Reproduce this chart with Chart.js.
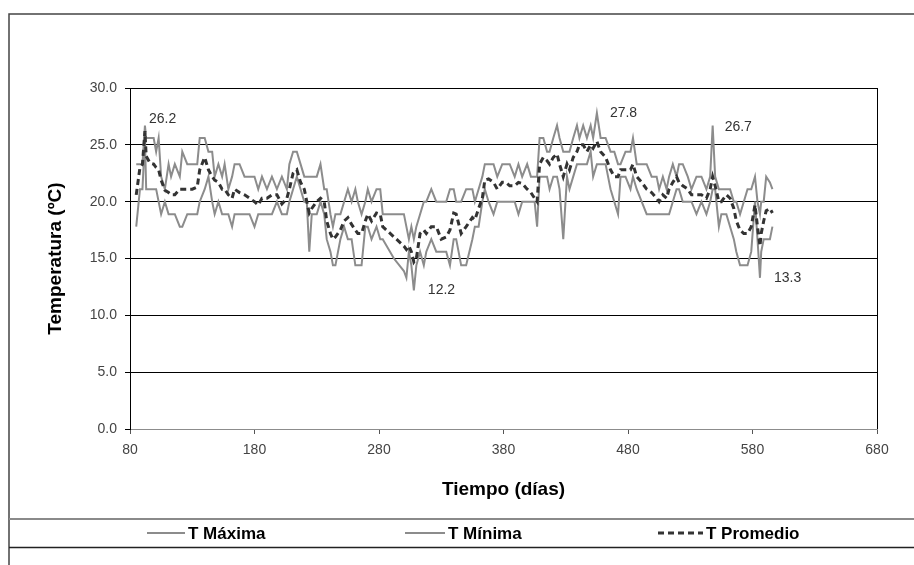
<!DOCTYPE html>
<html>
<head>
<meta charset="utf-8">
<script src="https://cdn.jsdelivr.net/npm/chart.js@4.4.1/dist/chart.umd.min.js"></script>
<style>
  html, body { margin: 0; padding: 0; background: #fff; }
  #wrap { width: 914px; height: 565px; }
</style>
</head>
<body>
<div id="wrap"><canvas id="chart" width="914" height="565"></canvas></div>
<script>
// días de medición
const dias = [
  85, 88, 90, 92, 93, 96, 99, 101, 103, 105, 108, 111, 113, 116, 120, 122, 126, 130, 134, 136,
  140, 143, 146, 148, 151, 154, 156, 159, 162, 164, 168, 172, 176, 180, 183, 186, 190, 194, 198, 202,
  206, 208, 211, 214, 217, 220, 222, 224, 226, 230, 233, 236, 238, 241, 243, 245, 249, 252, 255, 258,
  261, 263, 266, 269, 271, 274, 278, 281, 283, 292, 300, 302, 304, 306, 308, 310, 313, 316, 318, 322,
  326, 330, 334, 337, 340, 342, 346, 350, 355, 357, 360, 363, 365, 368, 372, 375, 379, 382, 385, 389,
  392, 395, 399, 402, 405, 407, 409, 412, 415, 417, 420, 423, 425, 428, 431, 433, 436, 439, 441, 444,
  447, 450, 452, 455, 458, 462, 466, 469, 472, 474, 478, 482, 484, 487, 491, 495, 499, 503, 505, 508,
  511, 513, 516, 519, 521, 524, 528, 531, 535, 539, 543, 546, 548, 550, 553, 555, 559, 562, 565, 567,
  570, 573, 576, 579, 582, 584, 586, 587, 589, 591, 594, 596
];

const tMaxima = [
  23.3, 23.3, 23.3, 26.7, 25.6, 25.6, 25.6, 24.4, 25.6, 22.2, 21.1, 23.3, 22.2, 23.3, 22.2, 24.4, 23.3, 23.3, 23.3, 25.6,
  25.6, 24.4, 24.4, 22.2, 23.3, 22.2, 23.3, 21.1, 22.2, 23.3, 23.3, 22.2, 22.2, 22.2, 21.1, 22.2, 21.1, 22.2, 21.1, 22.2,
  21.1, 23.3, 24.4, 24.4, 23.3, 22.2, 22.2, 22.2, 22.2, 22.2, 23.3, 21.1, 21.1, 18.9, 17.8, 18.9, 18.9, 20.0, 21.1, 20.0,
  21.1, 20.0, 18.9, 20.0, 21.1, 20.0, 21.1, 21.1, 18.9, 18.9, 18.9, 17.8, 16.7, 17.8, 16.7, 17.8, 18.9, 20.0, 20.0, 21.1,
  20.0, 20.0, 20.0, 21.1, 21.1, 20.0, 20.0, 21.1, 21.1, 20.0, 21.1, 22.2, 23.3, 23.3, 23.3, 22.2, 23.3, 23.3, 23.3, 22.2,
  23.3, 22.2, 23.3, 22.2, 22.2, 22.2, 25.6, 25.6, 24.4, 24.4, 25.6, 26.7, 25.6, 24.4, 24.4, 24.4, 25.6, 26.7, 25.6, 26.7,
  25.6, 26.7, 25.6, 27.8, 25.6, 25.6, 24.4, 24.4, 23.3, 23.3, 24.4, 24.4, 25.6, 23.3, 23.3, 23.3, 22.2, 22.2, 21.1, 22.2,
  21.1, 22.2, 23.3, 22.2, 23.3, 23.3, 22.2, 21.1, 22.2, 22.2, 21.1, 22.2, 26.7, 22.2, 21.1, 21.1, 21.1, 21.1, 20.0, 20.0,
  18.9, 20.0, 21.1, 21.1, 22.2, 20.0, 18.9, 20.0, 20.0, 22.2, 21.7, 21.1
];

const tMinima = [
  17.8, 21.1, 21.1, 25.6, 21.1, 21.1, 21.1, 21.1, 20.0, 18.9, 20.0, 18.9, 18.9, 18.9, 17.8, 17.8, 18.9, 18.9, 18.9, 20.0,
  21.1, 22.2, 20.0, 18.9, 20.0, 18.9, 18.9, 18.9, 17.8, 18.9, 18.9, 18.9, 18.9, 17.8, 18.9, 18.9, 18.9, 18.9, 20.0, 18.9,
  18.9, 20.0, 21.1, 22.2, 21.1, 20.0, 20.0, 15.6, 18.9, 18.9, 20.0, 18.9, 16.7, 15.6, 14.4, 14.4, 16.7, 17.8, 16.7, 16.7,
  14.4, 14.4, 14.4, 17.8, 17.8, 16.7, 17.8, 16.7, 16.7, 15.0, 13.9, 13.3, 15.6, 14.4, 12.2, 14.4, 15.6, 14.4, 15.6, 16.7,
  15.6, 15.6, 15.6, 14.4, 16.7, 16.7, 14.4, 14.4, 16.7, 17.8, 17.8, 20.0, 21.1, 20.0, 18.9, 20.0, 20.0, 20.0, 20.0, 20.0,
  18.9, 20.0, 20.0, 20.0, 20.0, 17.8, 22.2, 22.2, 22.2, 21.1, 22.2, 22.2, 21.1, 16.7, 22.2, 21.1, 22.2, 23.3, 23.3, 23.3,
  23.3, 24.4, 22.2, 23.3, 23.3, 23.3, 21.1, 20.0, 18.9, 22.2, 22.2, 21.1, 22.2, 21.1, 20.0, 18.9, 18.9, 18.9, 18.9, 18.9,
  18.9, 18.9, 20.0, 21.1, 21.1, 20.0, 20.0, 20.0, 18.9, 20.0, 18.9, 20.0, 21.1, 21.1, 17.8, 18.9, 18.9, 17.8, 16.7, 15.6,
  14.4, 14.4, 14.4, 15.6, 20.0, 16.7, 13.3, 15.6, 16.7, 16.7, 16.7, 17.8
];

const tPromedio = [
  20.6, 23.0, 23.3, 26.2, 24.0, 23.4, 23.3, 23.0, 22.8, 21.9, 21.0, 20.8, 20.6, 20.6, 21.1, 21.1, 21.1, 21.1, 21.3, 22.8,
  23.9, 22.8, 22.2, 21.9, 21.7, 21.1, 21.1, 20.6, 20.3, 21.1, 20.8, 20.6, 20.3, 20.0, 19.7, 20.3, 20.3, 20.6, 20.6, 19.8,
  20.3, 21.1, 22.5, 22.8, 21.7, 21.1, 20.0, 19.0, 19.4, 20.0, 20.3, 20.0, 18.3, 17.2, 16.7, 16.9, 17.5, 18.3, 18.6, 18.0,
  17.5, 17.2, 17.2, 18.3, 18.9, 18.3, 19.0, 18.9, 17.8, 16.9, 16.1, 15.8, 16.1, 15.6, 14.7, 15.0, 17.2, 17.5, 17.2, 17.8,
  17.8, 16.7, 16.9, 17.5, 19.0, 18.9, 17.2, 17.8, 18.6, 18.4, 19.4, 20.3, 21.9, 22.0, 21.7, 21.1, 21.7, 21.7, 21.4, 21.4,
  21.7, 21.6, 21.1, 20.8, 20.3, 20.0, 23.3, 23.9, 23.6, 23.3, 23.9, 24.2, 23.3, 22.2, 23.3, 22.8, 23.9, 24.4, 25.0, 25.0,
  24.4, 25.0, 24.7, 25.3, 24.4, 23.9, 22.8, 22.2, 22.2, 22.8, 22.8, 22.8, 23.3, 22.2, 21.7, 21.1, 20.8, 20.3, 20.0, 20.6,
  20.3, 21.1, 21.7, 22.2, 21.7, 21.4, 21.1, 20.6, 20.6, 20.6, 20.3, 21.1, 22.2, 21.4, 20.0, 20.0, 20.6, 20.3, 19.4, 18.3,
  17.5, 17.2, 17.2, 17.8, 19.7, 17.8, 16.1, 17.2, 18.3, 19.2, 19.4, 19.0
];

// valores extremos rotulados
const notaDias = [92, 308, 455, 548, 586];
const notaValores = [26.2, 12.2, 27.8, 26.7, 13.3];

const FONT = '"Liberation Sans", Arial, sans-serif';
Chart.defaults.font.family = FONT;

const puntos = serie => dias.map((d, i) => ({ x: d, y: serie[i] }));

// marco del gráfico y banda de la leyenda
const marco = {
  id: 'marco',
  beforeDraw(chart) {
    const { ctx, width, height } = chart;
    ctx.save();
    ctx.fillStyle = '#fff';
    ctx.fillRect(0, 0, width, height);
    ctx.strokeStyle = '#444';
    ctx.lineWidth = 1.5;
    ctx.beginPath();
    ctx.moveTo(9, height);
    ctx.lineTo(9, 14);
    ctx.lineTo(width, 14);
    ctx.stroke();
    ctx.strokeStyle = '#8a8a8a';
    ctx.lineWidth = 2;
    ctx.beginPath();
    ctx.moveTo(9, 519);
    ctx.lineTo(width, 519);
    ctx.stroke();
    ctx.strokeStyle = '#222';
    ctx.lineWidth = 1.5;
    ctx.beginPath();
    ctx.moveTo(9, 547.5);
    ctx.lineTo(width, 547.5);
    ctx.stroke();
    ctx.restore();
  },
  afterDraw(chart) {
    const { ctx, chartArea } = chart;
    ctx.save();
    ctx.strokeStyle = '#000';
    ctx.lineWidth = 1;
    ctx.beginPath();
    ctx.moveTo(Math.round(chartArea.right) + 0.5, chartArea.top);
    ctx.lineTo(Math.round(chartArea.right) + 0.5, chartArea.bottom);
    ctx.stroke();

    // leyenda
    const items = [[147, 185, 188], [405, 445, 448], [658, 703, 706]];
    ctx.textBaseline = 'middle';
    ctx.font = 'bold 17px ' + FONT;
    chart.data.datasets.forEach((ds, i) => {
      const [x0, x1, xt] = items[i];
      ctx.strokeStyle = ds.borderColor;
      ctx.lineWidth = ds.borderWidth;
      ctx.setLineDash(ds.borderDash || []);
      ctx.beginPath();
      ctx.moveTo(x0, 533);
      ctx.lineTo(x1, 533);
      ctx.stroke();
      ctx.setLineDash([]);
      ctx.fillStyle = '#000';
      ctx.fillText(ds.label, xt, 534);
    });
    ctx.restore();
  }
};

// rótulos de los extremos
const rotulos = {
  id: 'rotulos',
  afterDatasetsDraw(chart, args, opts) {
    const { ctx, scales: { x, y } } = chart;
    ctx.save();
    ctx.font = '14px ' + FONT;
    ctx.fillStyle = '#333';
    ctx.textBaseline = 'middle';
    notaDias.forEach((d, i) => {
      const [dx, dy] = opts.offsets[i];
      ctx.fillText(notaValores[i].toFixed(1), x.getPixelForValue(d) + dx, y.getPixelForValue(notaValores[i]) + dy);
    });
    ctx.restore();
  }
};

new Chart(document.getElementById('chart'), {
  type: 'line',
  data: {
    datasets: [
      {
        label: 'T Máxima',
        data: puntos(tMaxima),
        borderColor: '#8c8c8c',
        borderWidth: 2,
        pointRadius: 0,
        order: 2
      },
      {
        label: 'T Mínima',
        data: puntos(tMinima),
        borderColor: '#8c8c8c',
        borderWidth: 2,
        pointRadius: 0,
        order: 1
      },
      {
        label: 'T Promedio',
        data: puntos(tPromedio),
        borderColor: '#333333',
        borderWidth: 3,
        borderDash: [6, 4],
        pointRadius: 0,
        order: 0
      }
    ]
  },
  options: {
    responsive: false,
    animation: false,
    devicePixelRatio: 1,
    layout: { padding: { left: 9, top: 88, right: 37, bottom: 0 } },
    plugins: {
      legend: { display: false },
      tooltip: { enabled: false },
      rotulos: { offsets: [[4, -12], [14, 0], [13, 0], [12, 2], [14, 0]] }
    },
    scales: {
      x: {
        type: 'linear',
        min: 80,
        max: 680,
        ticks: { stepSize: 100, color: '#444', font: { size: 14 }, padding: 8, maxRotation: 0 },
        grid: { drawOnChartArea: false, tickLength: 5, tickColor: '#555' },
        border: { color: '#8c8c8c', width: 1 },
        title: {
          display: true,
          text: 'Tiempo (días)',
          color: '#000',
          font: { size: 19, weight: 'bold' },
          padding: { top: 0, bottom: 64 }
        },
        afterFit: s => { s.height = 136; }
      },
      y: {
        min: 0,
        max: 30,
        ticks: { stepSize: 5, color: '#444', font: { size: 14 }, padding: 8, callback: v => v.toFixed(1) },
        grid: {
          color: c => (c.tick && c.tick.value === 0) ? '#8c8c8c' : '#000',
          tickColor: '#000',
          tickLength: 5
        },
        border: { color: '#000', width: 1 },
        title: {
          display: true,
          text: 'Temperatura (ºC)',
          color: '#000',
          font: { size: 19, weight: 'bold' },
          padding: { top: 35, bottom: 0 }
        },
        afterFit: s => { s.width = 121; }
      }
    }
  },
  plugins: [marco, rotulos]
});
</script>
</body>
</html>
